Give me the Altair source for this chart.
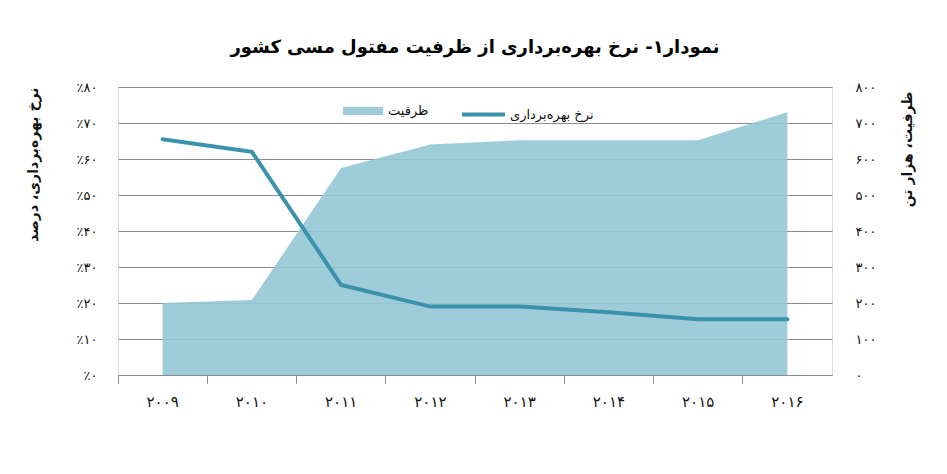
import json
import altair as alt
import pandas as pd

# ---- data ----
years = ["۲۰۰۹", "۲۰۱۰", "۲۰۱۱", "۲۰۱۲", "۲۰۱۳", "۲۰۱۴", "۲۰۱۵", "۲۰۱۶"]
capacity = [200, 208, 575, 640, 652, 652, 652, 730]          # thousand tonnes
utilization = [0.655, 0.62, 0.25, 0.19, 0.19, 0.174, 0.155, 0.155]

left_ticks = [0, 0.1, 0.2, 0.3, 0.4, 0.5, 0.6, 0.7, 0.8]
left_tick_labels = ["٪۰", "٪۱۰", "٪۲۰", "٪۳۰", "٪۴۰", "٪۵۰", "٪۶۰", "٪۷۰", "٪۸۰"]
right_ticks = [0, 100, 200, 300, 400, 500, 600, 700, 800]
right_tick_labels = ["۰", "۱۰۰", "۲۰۰", "۳۰۰", "۴۰۰", "۵۰۰", "۶۰۰", "۷۰۰", "۸۰۰"]

title_text = "نمودار۱- نرخ بهره‌برداری از ظرفیت مفتول مسی کشور"
left_title = "نرخ بهره‌برداری، درصد"
right_title = "ظرفیت، هزار تن"
area_name = "ظرفیت"
line_name = "نرخ بهره‌برداری"

AREA_COLOR = "#93c6d4"
LINE_COLOR = "#3a93ab"
GRID = "#8c8c8c"
FONT = "DejaVu Sans"

df = pd.DataFrame({
    "year": years,
    "capacity": capacity,
    "util": utilization,
    "s_area": area_name,
    "s_line": line_name,
})

left_expr = json.dumps(left_tick_labels, ensure_ascii=False) + "[round(datum.value*10)]"
right_expr = json.dumps(right_tick_labels, ensure_ascii=False) + "[round(datum.value/100)]"

x_enc = alt.X(
    "year:N",
    sort=years,
    bandPosition=0.5,
    scale=alt.Scale(type="band", paddingInner=0, paddingOuter=0),
    axis=alt.Axis(
        title=None, grid=False, bandPosition=0, labelAngle=0, domain=True, ticks=True,
        domainColor=GRID, tickColor=GRID, tickSize=8,
        labelFont=FONT, labelFontSize=15, labelColor="#111", labelPadding=11,
    ),
)

area = alt.Chart(df).mark_area(fillOpacity=0.9).encode(
    x=x_enc,
    y=alt.Y(
        "capacity:Q",
        scale=alt.Scale(domain=[0, 800], nice=False),
        axis=alt.Axis(
            orient="right", values=right_ticks, labelExpr=right_expr,
            grid=False, domain=False, ticks=False, tickSize=0,
            labelPadding=23, labelFont=FONT, labelFontSize=13, labelColor="#111",
            title=right_title, titleFont=FONT, titleFontSize=14, titleFontWeight="bold",
            titleColor="#111", titleAngle=-90, titleAlign="right", titleBaseline="middle",
            titleX=75, titleY=4,
        ),
    ),
    fill=alt.Fill(
        "s_area:N",
        scale=alt.Scale(domain=[area_name], range=[AREA_COLOR]),
        legend=alt.Legend(
            orient="none", legendX=225, legendY=4, title=None, padding=0,
            symbolType="M-1,-0.2H1V0.2H-1Z", symbolSize=1600, symbolOpacity=0.9,
            symbolStrokeWidth=0, labelFont=FONT, labelFontSize=13, labelColor="#111",
            labelOffset=5,
        ),
    ),
)

line = alt.Chart(df).mark_line(strokeWidth=4, strokeCap="round").encode(
    x=x_enc,
    y=alt.Y(
        "util:Q",
        scale=alt.Scale(domain=[0, 0.8], nice=False),
        axis=alt.Axis(
            orient="left", values=left_ticks, labelExpr=left_expr,
            grid=True, gridColor=GRID, gridWidth=1, domain=False,
            ticks=False, tickSize=0,
            labelPadding=21, labelFont=FONT, labelFontSize=13, labelColor="#111",
            title=left_title, titleFont=FONT, titleFontSize=14, titleFontWeight="bold",
            titleColor="#111", titleAngle=-90, titleAlign="right", titleBaseline="middle",
            titleX=-85, titleY=0,
        ),
    ),
    stroke=alt.Stroke(
        "s_line:N",
        scale=alt.Scale(domain=[line_name], range=[LINE_COLOR]),
        legend=alt.Legend(
            orient="none", legendX=342, legendY=4, title=None, padding=0,
            symbolType="stroke", symbolSize=1849, symbolStrokeWidth=4,
            labelFont=FONT, labelFontSize=13, labelColor="#111", labelOffset=3,
        ),
    ),
)

chart = (
    alt.layer(area, line)
    .resolve_scale(y="independent", fill="independent", stroke="independent")
    .properties(
        width=714,
        height=288,
        autosize=alt.AutoSizeParams(type="none"),
        padding={"left": 110, "top": 79, "right": 107, "bottom": 91},
        title=alt.TitleParams(
            title_text, font=FONT, fontSize=18, fontWeight="bold", color="#000",
            anchor="middle", frame="group", offset=24,
        ),
    )
    .configure_axis(grid=False, domain=False, ticks=False,
                    gridColor=GRID, domainColor=GRID, tickColor=GRID)
    .configure_view(strokeWidth=0, stroke="transparent")
    .configure(background="white")
)

chart.save("out.html", embed_options={"renderer": "svg", "actions": False})
